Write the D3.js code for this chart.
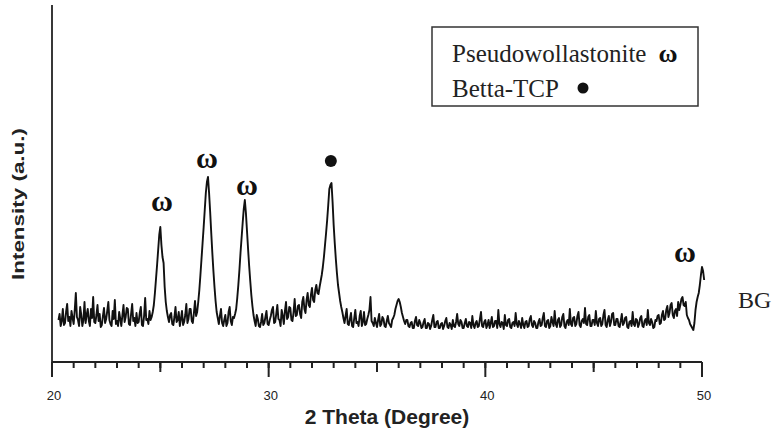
<!DOCTYPE html>
<html>
<head>
<meta charset="utf-8">
<script src="https://cdn.jsdelivr.net/npm/d3@7"></script>
</head>
<body style="margin:0">
<div id="viz"></div>
<script>
// XRD pattern of BG sample, 2theta scan 20.30 -> 50.10 deg, step 0.05
const twoThetaStart = 20.3;
const twoThetaStep = 0.05;

const intensity = [
  // 20.30 - 20.95
  150, 210, 90, 140, 260, 100, 120, 230, 310, 140, 180, 90, 240, 170,
  // 21.00 - 21.95
  110, 250, 420, 180, 150, 90, 280, 200, 90, 150, 330, 120, 200, 260, 140, 90, 260, 170, 380, 130,
  // 22.00 - 22.95
  120, 200, 300, 140, 210, 80, 100, 190, 270, 120, 160, 240, 330, 150, 110, 90, 240, 160, 350, 110,
  // 23.00 - 23.95
  140, 90, 230, 160, 90, 200, 300, 130, 180, 270, 260, 110, 100, 210, 310, 140, 170, 90, 220, 120,
  // 24.00 - 24.55
  130, 220, 280, 100, 90, 190, 370, 150, 160, 110, 240, 150,
  // 24.60 - 25.45 (peak)
  180, 230, 300, 420, 560, 700, 850, 1000, 1080, 900, 780, 720, 480, 330, 240, 180, 130, 200,
  // 25.50 - 26.65
  220, 110, 100, 180, 280, 130, 150, 230, 90, 160, 240, 100, 130, 200, 310, 120, 160, 260, 260, 140, 120, 220, 340, 190,
  // 26.70 - 27.65 (peak)
  230, 330, 450, 600, 760, 920, 1080, 1250, 1420, 1530, 1580, 1420, 1230, 1020, 820, 640, 480, 340, 230, 170,
  // 27.70 - 28.45
  110, 190, 260, 120, 90, 150, 200, 90, 120, 230, 280, 140, 100, 180, 170, 210,
  // 28.50 - 29.35 (peak)
  260, 370, 500, 650, 820, 970, 1120, 1260, 1350, 1220, 1040, 860, 690, 540, 400, 290, 200, 140,
  // 29.40 - 31.55
  90, 200, 160, 90, 80, 130, 210, 100, 120, 180, 240, 110, 100, 150, 190, 250, 280, 120, 130, 210, 300, 160,
  150, 90, 250, 190, 110, 240, 330, 160, 180, 280, 270, 150, 140, 230, 360, 190, 200, 290, 300, 210, 170, 330,
  // 31.60 - 32.35
  380, 260, 220, 350, 420, 300, 280, 400, 470, 350, 330, 450, 500, 420, 410, 480,
  // 32.40 - 33.45 (peak)
  540, 600, 680, 780, 900, 1020, 1150, 1300, 1460, 1500, 1520, 1330, 1100, 920, 760, 620, 500, 420, 340, 280, 230, 170,
  // 33.50 - 35.75
  120, 190, 260, 110, 100, 160, 220, 90, 80, 170, 250, 120, 130, 90, 190, 240, 90, 130, 230, 100, 110, 160, 200,
  250, 380, 140, 120, 90, 170, 120, 80, 150, 210, 90, 110, 180, 160, 90, 80, 140, 190, 120, 100, 80, 150, 170,
  // 35.80 - 36.35 (small bump)
  200, 260, 300, 340, 360, 330, 280, 220, 180, 140, 110, 150,
  // 36.40 - 37.05
  150, 90, 80, 120, 130, 70, 70, 140, 180, 100, 90, 150, 120, 70,
  // 37.10 - 38.05
  80, 130, 160, 70, 70, 120, 110, 60, 90, 150, 200, 80, 80, 130, 140, 70, 70, 110, 120, 60,
  // 38.10 - 39.05
  90, 140, 170, 80, 70, 120, 100, 60, 150, 90, 80, 130, 210, 110, 90, 150, 130, 70, 70, 120,
  // 39.10 - 40.05
  160, 90, 80, 130, 120, 70, 190, 100, 70, 120, 140, 80, 90, 160, 230, 90, 80, 130, 150, 70,
  // 40.10 - 41.05
  100, 150, 70, 120, 180, 80, 90, 140, 140, 70, 250, 110, 80, 130, 120, 60, 200, 100, 90, 150,
  // 41.10 - 42.05
  160, 80, 70, 120, 130, 90, 220, 110, 80, 140, 110, 70, 170, 100, 70, 130, 140, 80, 90, 160,
  // 42.10 - 43.05
  190, 100, 80, 140, 120, 70, 70, 130, 160, 90, 100, 170, 220, 90, 80, 140, 150, 70, 90, 180,
  // 43.10 - 44.05
  130, 90, 240, 110, 80, 150, 170, 80, 100, 180, 210, 90, 70, 130, 150, 100, 260, 110, 90, 170,
  // 44.10 - 45.05
  180, 90, 110, 190, 230, 100, 80, 140, 160, 120, 270, 110, 100, 180, 200, 90, 90, 150, 150, 100,
  // 45.10 - 46.05
  240, 120, 90, 160, 170, 90, 110, 200, 250, 100, 80, 150, 190, 90, 130, 210, 220, 100, 100, 160,
  // 46.10 - 47.05
  160, 90, 80, 140, 210, 100, 120, 170, 180, 80, 70, 130, 140, 90, 230, 110, 90, 160, 150, 80,
  // 47.10 - 47.85
  110, 170, 190, 90, 80, 140, 160, 100, 250, 120, 100, 160, 130, 70, 80, 150,
  // 47.90 - 50.10
  140, 190, 200, 110, 120, 200, 240, 150, 160, 250, 290, 180, 220, 300, 320, 200, 170, 240, 260, 190,
  330, 250, 300, 360, 380, 300, 290, 330, 200, 170, 150, 110, 90, 70, 50, 120, 250, 330, 380, 420,
  500, 600, 680, 640, 550
];

const xMajorTicks = [20, 30, 40, 50];
const xMidTicks = [25, 35, 45];
const xMinorTicks = d3.range(20, 51, 1);

// phase markers above the reflections
const peakAngles = [25.08, 27.15, 29.0, 32.87, 49.21];
const peakLabelHeights = [1350, 1780, 1510, 1740, 840];
const peakPhases = ['PW', 'PW', 'PW', 'TCP', 'PW'];

const legendLabels = ['Pseudowollastonite', 'Betta-TCP'];
const legendPhases = ['PW', 'TCP'];
const sampleName = 'BG';

const W = 774, H = 436;

const data = intensity.map((v, i) => ({ t: twoThetaStart + i * twoThetaStep, v: v }));

const svg = d3.select('#viz').append('svg')
  .attr('width', W)
  .attr('height', H);

const x = d3.scaleLinear().domain([20, 50]).range([52, 702]);
const y = d3.scaleLinear().domain([-270, 3300]).range([362, 5]);
const axisY = y(-270);

// axis titles
svg.append('text')
  .attr('x', 387)
  .attr('y', 424)
  .attr('text-anchor', 'middle')
  .attr('font-family', 'Liberation Sans, Arial, sans-serif')
  .attr('font-weight', 'bold')
  .attr('font-size', 21)
  .attr('fill', '#222')
  .text('2 Theta (Degree)');

svg.append('text')
  .attr('transform', 'translate(24,204) rotate(-90)')
  .attr('text-anchor', 'middle')
  .attr('font-family', 'Liberation Sans, Arial, sans-serif')
  .attr('font-weight', 'bold')
  .attr('font-size', 17)
  .attr('textLength', 152)
  .attr('lengthAdjust', 'spacingAndGlyphs')
  .attr('fill', '#222')
  .text('Intensity (a.u.)');

// pattern
const line = d3.line()
  .x(d => x(d.t))
  .y(d => y(d.v));

svg.append('path')
  .datum(data)
  .attr('d', line)
  .attr('fill', 'none')
  .attr('stroke', '#111')
  .attr('stroke-width', 1.9)
  .attr('stroke-linejoin', 'round');

// phase markers
function drawPhase(g, phase, cx, cy, omegaSize, dotR) {
  if (phase === 'TCP') {
    g.append('circle')
      .attr('cx', cx).attr('cy', cy).attr('r', dotR)
      .attr('fill', '#111');
  } else {
    g.append('text')
      .attr('x', cx).attr('y', cy)
      .attr('text-anchor', 'middle')
      .attr('dominant-baseline', 'central')
      .attr('font-family', 'Liberation Serif, Times New Roman, serif')
      .attr('font-weight', 'bold')
      .attr('font-size', omegaSize)
      .attr('fill', '#111')
      .text('ω');
  }
}

const markers = svg.append('g');
peakAngles.forEach((a, i) => {
  drawPhase(markers, peakPhases[i], x(a), y(peakLabelHeights[i]), 30, 6);
});

// sample name
svg.append('text')
  .attr('x', 738)
  .attr('y', 308)
  .attr('font-family', 'Liberation Serif, Times New Roman, serif')
  .attr('font-size', 24)
  .attr('fill', '#222')
  .text(sampleName);

// legend
const legend = svg.append('g');
legend.append('rect')
  .attr('x', 432).attr('y', 27)
  .attr('width', 266).attr('height', 79)
  .attr('fill', '#fff')
  .attr('stroke', '#333')
  .attr('stroke-width', 1.5);

const legendSymX = [668, 583];
legendLabels.forEach((lab, i) => {
  const by = 62 + i * 35;
  legend.append('text')
    .attr('x', 452)
    .attr('y', by)
    .attr('font-family', 'Liberation Serif, Times New Roman, serif')
    .attr('font-size', 25)
    .attr('fill', '#222')
    .text(lab);
  drawPhase(legend, legendPhases[i], legendSymX[i], by - 9, 26, 5.5);
});

// axes last, on top
svg.append('line')
  .attr('x1', x(20)).attr('x2', x(50))
  .attr('y1', axisY).attr('y2', axisY)
  .attr('stroke', '#222').attr('stroke-width', 1.8);

svg.append('line')
  .attr('x1', x(20)).attr('x2', x(20))
  .attr('y1', y(3300)).attr('y2', axisY)
  .attr('stroke', '#222').attr('stroke-width', 1.8);

const tickLen = [[xMinorTicks, 6, 'tk-minor'], [xMidTicks, 10, 'tk-mid'], [xMajorTicks, 15, 'tk-major']];
tickLen.forEach(([vals, len, cls]) => {
  svg.selectAll('.' + cls)
    .data(vals)
    .enter()
    .append('line')
    .attr('class', cls)
    .attr('x1', d => x(d)).attr('x2', d => x(d))
    .attr('y1', axisY).attr('y2', axisY + len)
    .attr('stroke', '#222')
    .attr('stroke-width', 2);
});

svg.selectAll('.xlab')
  .data(xMajorTicks)
  .enter()
  .append('text')
  .attr('class', 'xlab')
  .attr('x', d => x(d) + 2)
  .attr('y', axisY + 38)
  .attr('text-anchor', 'middle')
  .attr('font-family', 'Liberation Sans, Arial, sans-serif')
  .attr('font-size', 13)
  .attr('fill', '#222')
  .text(d => d);
</script>
</body>
</html>
